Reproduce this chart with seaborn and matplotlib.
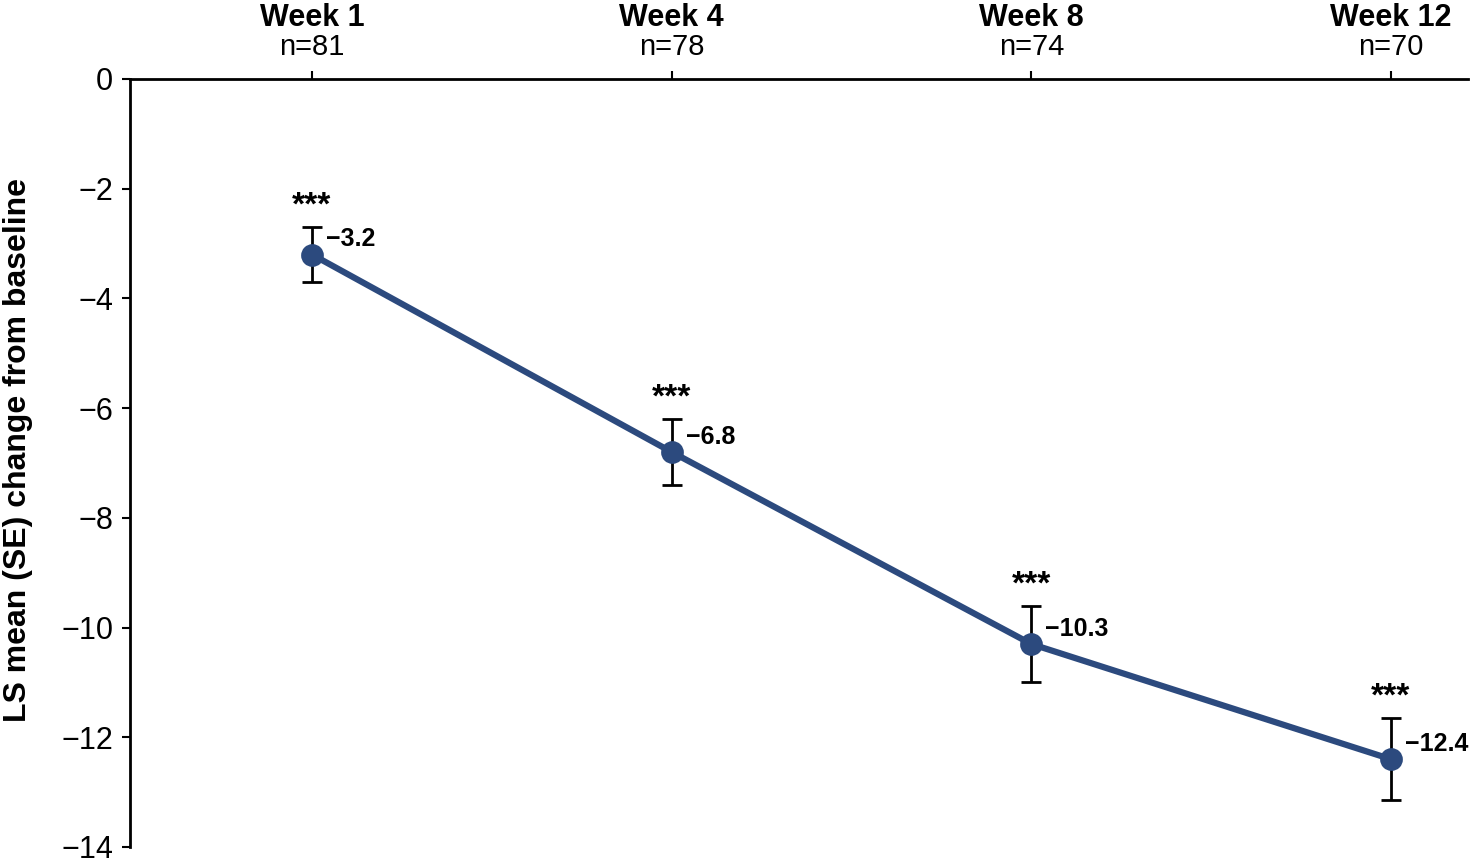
import matplotlib
matplotlib.use("Agg")
import matplotlib.pyplot as plt
import matplotlib.transforms as mtransforms
import seaborn as sns
import pandas as pd

weeks = ["Week 1", "Week 4", "Week 8", "Week 12"]
n_patients = [81, 78, 74, 70]
ls_mean = [-3.2, -6.8, -10.3, -12.4]
se = [0.5, 0.6, 0.7, 0.75]
value_labels = ["\u22123.2", "\u22126.8", "\u221210.3", "\u221212.4"]
sig_labels = ["***", "***", "***", "***"]
y_ticks = [0, -2, -4, -6, -8, -10, -12, -14]

sns.set_theme(style="white")
plt.rcParams["font.family"] = ["Liberation Sans", "DejaVu Sans"]
plt.rcParams["text.color"] = "black"
plt.rcParams["axes.labelcolor"] = "black"
plt.rcParams["xtick.color"] = "black"
plt.rcParams["ytick.color"] = "black"

df = pd.DataFrame({"week": weeks, "mean": ls_mean, "se": se})

fig = plt.figure(figsize=(14.7, 8.64), dpi=100)
ax = fig.add_axes([130 / 1470, 1 - 847 / 864, (1468 - 130) / 1470, (847 - 79) / 864])

line_color = "#2c4a7e"
sns.pointplot(data=df, x="week", y="mean", errorbar=None, color=line_color,
              markers="o", linestyles="-", ax=ax, zorder=3,
              markersize=13, linewidth=4.5)
ax.errorbar(range(len(weeks)), ls_mean, yerr=se, fmt="none", ecolor="black",
            elinewidth=2, capsize=7, capthick=2, zorder=2)

for i in range(len(weeks)):
    top = ls_mean[i] + se[i]
    ax.annotate(sig_labels[i], (i, top), xytext=(0, 4), textcoords="offset points",
                ha="center", va="bottom", fontsize=24, fontweight="bold", color="black")
    ax.annotate(value_labels[i], (i, ls_mean[i]), xytext=(10, 11), textcoords="offset points",
                ha="left", va="center", fontsize=18, fontweight="bold", color="black")

ax.set_xlim(-0.506, 3.214)
ax.set_ylim(-14, 0)
ax.set_yticks(y_ticks)
ax.set_yticklabels([str(t).replace("-", "\u2212") for t in y_ticks])

ax.xaxis.tick_top()
ax.set_xticks(range(len(weeks)))
ax.set_xticklabels([f"n={n}" for n in n_patients])
trans = mtransforms.blended_transform_factory(ax.transData, ax.transAxes)
for i, w in enumerate(weeks):
    ax.annotate(w, (i, 1.0), xycoords=trans, xytext=(0, 44), textcoords="offset points",
                ha="center", va="center", fontsize=22, fontweight="bold", color="black")

ax.tick_params(axis="x", direction="out", length=6, width=1.5, pad=7, labelsize=21,
               top=True, bottom=False, colors="black")
ax.tick_params(axis="y", direction="out", length=6, width=1.5, pad=6, labelsize=22,
               left=True, colors="black")

for s in ["bottom", "right"]:
    ax.spines[s].set_visible(False)
for s in ["top", "left"]:
    ax.spines[s].set_visible(True)
    ax.spines[s].set_color("black")
    ax.spines[s].set_linewidth(2)

ax.set_xlabel("")
ax.set_ylabel("LS mean (SE) change from baseline", fontsize=23, fontweight="bold", color="black")
ax.yaxis.set_label_coords(-0.0725, 0.517)
ax.grid(False)

fig.savefig("out.png", dpi=100, facecolor="white")
